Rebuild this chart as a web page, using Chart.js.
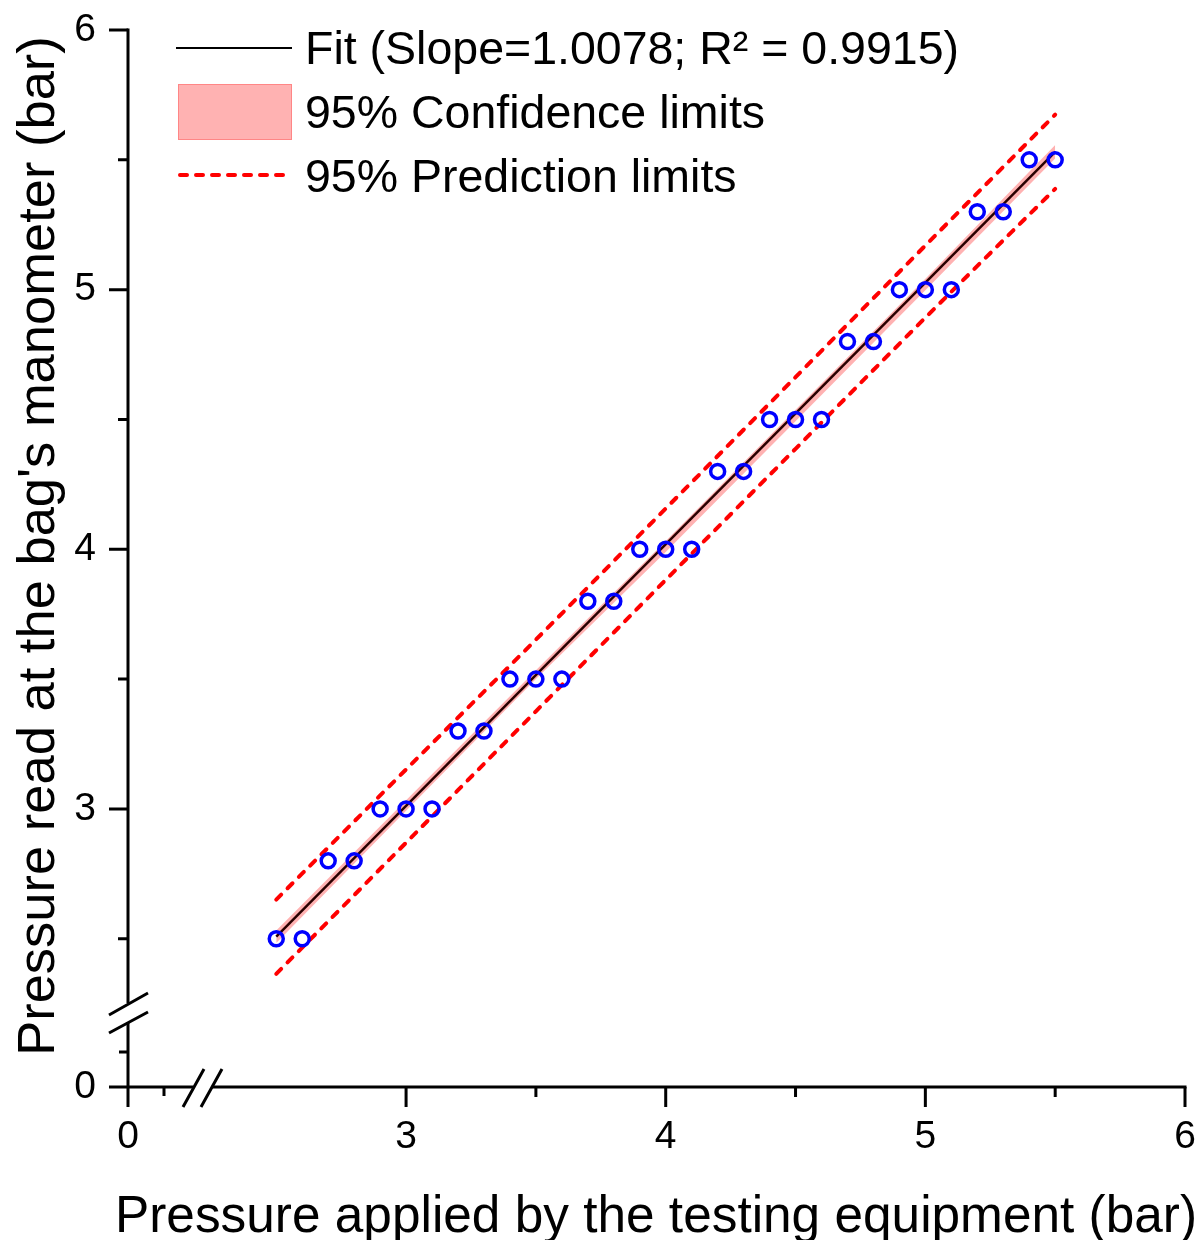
<!DOCTYPE html>
<html>
<head>
<meta charset="utf-8">
<style>
  html, body { margin: 0; padding: 0; background: #fff; }
  #wrap { width: 1202px; height: 1240px; }
</style>
<script src="https://cdn.jsdelivr.net/npm/chart.js@4.4.1/dist/chart.umd.min.js"></script>
</head>
<body>
<div id="wrap"><canvas id="calib"></canvas></div>
<script>
'use strict';

// measured points: applied pressure vs manometer reading (bar)
const applied = [2.5, 2.6, 2.7, 2.8, 2.9, 3.0, 3.1, 3.2, 3.3, 3.4, 3.5, 3.6, 3.7, 3.8, 3.9, 4.0,
                 4.1, 4.2, 4.3, 4.4, 4.5, 4.6, 4.7, 4.8, 4.9, 5.0, 5.1, 5.2, 5.3, 5.4, 5.5];
const readings = [2.5, 2.5, 2.8, 2.8, 3.0, 3.0, 3.0, 3.3, 3.3, 3.5, 3.5, 3.5, 3.8, 3.8, 4.0, 4.0,
                  4.0, 4.3, 4.3, 4.5, 4.5, 4.5, 4.8, 4.8, 5.0, 5.0, 5.0, 5.3, 5.3, 5.5, 5.5];

// linear fit line ends
const fitX = [2.5, 5.5];
const fitY = [2.508, 5.531];

// bands
const bandX = [2.5, 3.0, 3.5, 4.0, 4.5, 5.0, 5.5];
const confUpper = [2.532, 3.033, 3.534, 4.032, 4.537, 5.042, 5.557];
const confLower = [2.484, 2.993, 3.500, 3.990, 4.493, 4.998, 5.505];
const predUpper = [2.651, 3.152, 3.652, 4.157, 4.663, 5.170, 5.674];
const predLower = [2.365, 2.870, 3.376, 3.882, 4.387, 4.892, 5.388];

const xTicks = [3, 4, 5, 6];
const yTicks = [3, 4, 5, 6];
const xMinor = [3.5, 4.5, 5.5];
const yMinor = [2.5, 3.5, 4.5, 5.5];
const breakMin = 1.929; // value sitting at the broken "0" end of both axes

const xTitle = 'Pressure applied by the testing equipment (bar)';
const yTitle = "Pressure read at the bag's manometer (bar)";
const legendItems = ['Fit (Slope=1.0078; R\u00B2 = 0.9915)', '95% Confidence limits', '95% Prediction limits'];

const FONT = '"Liberation Sans", Arial, sans-serif';

function pts(xs, ys) {
    return xs.map((x, i) => ({x: x, y: ys[i]}));
}

const axesPlugin = {
    id: 'brokenAxes',
    afterDraw(chart) {
        const ctx = chart.ctx;
        const xs = chart.scales.x;
        const ys = chart.scales.y;
        const x0 = xs.getPixelForValue(breakMin);
        const y0 = ys.getPixelForValue(breakMin);
        const xEnd = xs.getPixelForValue(6);
        const yEnd = ys.getPixelForValue(6);
        ctx.save();
        ctx.strokeStyle = '#000';
        ctx.lineWidth = 3;
        ctx.lineCap = 'butt';

        // x axis line with a gap for the break
        ctx.beginPath();
        ctx.moveTo(x0 - 19, y0);
        ctx.lineTo(x0 + 65, y0);
        ctx.moveTo(x0 + 84, y0);
        ctx.lineTo(xEnd + 1.5, y0);
        // y axis line with a gap
        ctx.moveTo(x0, y0 + 20);
        ctx.lineTo(x0, y0 - 65);
        ctx.moveTo(x0, y0 - 84);
        ctx.lineTo(x0, yEnd - 1.5);
        ctx.stroke();

        // major ticks
        ctx.beginPath();
        xTicks.forEach(v => {
            const p = xs.getPixelForValue(v);
            ctx.moveTo(p, y0); ctx.lineTo(p, y0 + 20);
        });
        yTicks.forEach(v => {
            const p = ys.getPixelForValue(v);
            ctx.moveTo(x0, p); ctx.lineTo(x0 - 19, p);
        });
        // minor ticks
        xMinor.forEach(v => {
            const p = xs.getPixelForValue(v);
            ctx.moveTo(p, y0); ctx.lineTo(p, y0 + 10);
        });
        yMinor.forEach(v => {
            const p = ys.getPixelForValue(v);
            ctx.moveTo(x0, p); ctx.lineTo(x0 - 10, p);
        });
        // minor ticks inside the broken part
        ctx.moveTo(x0 + 36, y0); ctx.lineTo(x0 + 36, y0 + 9);
        ctx.moveTo(x0, y0 - 35); ctx.lineTo(x0 - 9, y0 - 35);
        ctx.stroke();

        // break marks
        ctx.beginPath();
        ctx.moveTo(x0 + 55, y0 + 20); ctx.lineTo(x0 + 76, y0 - 18);
        ctx.moveTo(x0 + 73, y0 + 20); ctx.lineTo(x0 + 94, y0 - 18);
        ctx.moveTo(x0 - 19, y0 - 72); ctx.lineTo(x0 + 20, y0 - 94);
        ctx.moveTo(x0 - 19, y0 - 54); ctx.lineTo(x0 + 20, y0 - 75);
        ctx.stroke();
        ctx.restore();

        // axis titles, drawn by hand so they can run past the plot area
        ctx.save();
        ctx.font = '52px ' + FONT;
        ctx.fillStyle = '#000';
        ctx.textAlign = 'center';
        ctx.textBaseline = 'alphabetic';
        ctx.fillText(xTitle, 656, 1232, 1082);
        ctx.translate(54, 546);
        ctx.rotate(-Math.PI / 2);
        ctx.font = '52.5px ' + FONT;
        ctx.fillText(yTitle, 0, 0, 1022);
        ctx.restore();

        // legend
        ctx.save();
        ctx.font = '46.5px ' + FONT;
        ctx.fillStyle = '#000';
        ctx.textBaseline = 'middle';
        const textX = 305;
        const rows = [49, 113, 177];
        ctx.strokeStyle = '#000';
        ctx.lineWidth = 2;
        ctx.beginPath();
        ctx.moveTo(176, rows[0] - 1); ctx.lineTo(292, rows[0] - 1);
        ctx.stroke();
        ctx.fillStyle = 'rgba(255,0,0,0.3)';
        ctx.fillRect(178, 84, 114, 56);
        ctx.strokeStyle = 'rgba(255,80,80,0.45)';
        ctx.lineWidth = 1;
        ctx.strokeRect(178.5, 84.5, 113, 55);
        ctx.strokeStyle = '#ff0000';
        ctx.lineWidth = 4;
        ctx.setLineDash([7, 9]);
        ctx.lineCap = 'round';
        ctx.beginPath();
        ctx.moveTo(180, rows[2] - 2); ctx.lineTo(290, rows[2] - 2);
        ctx.stroke();
        ctx.setLineDash([]);
        ctx.fillStyle = '#000';
        legendItems.forEach((t, i) => ctx.fillText(t, textX, rows[i] + 2));
        ctx.restore();
    }
};

const ctx = document.getElementById('calib').getContext('2d');
ctx.canvas.width = 1202;
ctx.canvas.height = 1240;

new Chart(ctx, {
    type: 'scatter',
    data: {
        datasets: [
            {
                label: 'points',
                data: pts(applied, readings),
                pointStyle: 'circle',
                pointRadius: 7,
                pointBorderWidth: 3.5,
                pointBorderColor: '#0000ff',
                pointBackgroundColor: 'rgba(0,0,0,0)',
                showLine: false,
                order: 0
            },
            {
                label: legendItems[0],
                data: pts(fitX, fitY),
                showLine: true,
                borderColor: '#2a0000',
                borderWidth: 2.5,
                pointRadius: 0,
                order: 1
            },
            {
                label: 'pred upper',
                data: pts(bandX, predUpper),
                showLine: true,
                borderColor: '#ff0000',
                borderWidth: 4,
                borderDash: [7, 9],
                borderCapStyle: 'round',
                cubicInterpolationMode: 'monotone',
                pointRadius: 0,
                order: 2
            },
            {
                label: 'pred lower',
                data: pts(bandX, predLower),
                showLine: true,
                borderColor: '#ff0000',
                borderWidth: 4,
                borderDash: [7, 9],
                borderCapStyle: 'round',
                cubicInterpolationMode: 'monotone',
                pointRadius: 0,
                order: 2
            },
            {
                label: 'conf upper',
                data: pts(bandX, confUpper),
                showLine: true,
                borderWidth: 0,
                borderColor: 'rgba(0,0,0,0)',
                backgroundColor: 'rgba(255,0,0,0.3)',
                fill: '+1',
                pointRadius: 0,
                order: 3
            },
            {
                label: 'conf lower',
                data: pts(bandX, confLower),
                showLine: true,
                borderWidth: 0,
                borderColor: 'rgba(0,0,0,0)',
                fill: false,
                pointRadius: 0,
                order: 3
            }
        ]
    },
    options: {
        responsive: false,
        animation: false,
        layout: {padding: {top: 30, right: 17, left: 0, bottom: 0}},
        plugins: {
            legend: {display: false},
            tooltip: {enabled: false}
        },
        scales: {
            x: {
                type: 'linear',
                min: breakMin,
                max: 6,
                grid: {display: false, drawTicks: false},
                border: {display: false},
                afterBuildTicks: s => {
                    s.ticks = [{value: breakMin}].concat(xTicks.map(v => ({value: v})));
                },
                afterFit: s => {
                    s.height = 153;
                    s.paddingLeft = 0;
                    s.paddingRight = 0;
                },
                ticks: {
                    color: '#000',
                    padding: 27,
                    font: {family: FONT, size: 39},
                    maxRotation: 0,
                    autoSkip: false,
                    callback: v => (v === breakMin ? '0' : String(v))
                },
                title: {display: false}
            },
            y: {
                type: 'linear',
                min: breakMin,
                max: 6,
                grid: {display: false, drawTicks: false},
                border: {display: false},
                afterBuildTicks: s => {
                    s.ticks = [{value: breakMin}].concat(yTicks.map(v => ({value: v})));
                },
                afterFit: s => {
                    s.width = 128;
                    s.paddingTop = 0;
                    s.paddingBottom = 0;
                },
                ticks: {
                    color: '#000',
                    padding: 32,
                    font: {family: FONT, size: 39},
                    autoSkip: false,
                    callback: v => (v === breakMin ? '0' : String(v))
                },
                title: {display: false}
            }
        }
    },
    plugins: [axesPlugin]
});
</script>
</body>
</html>
